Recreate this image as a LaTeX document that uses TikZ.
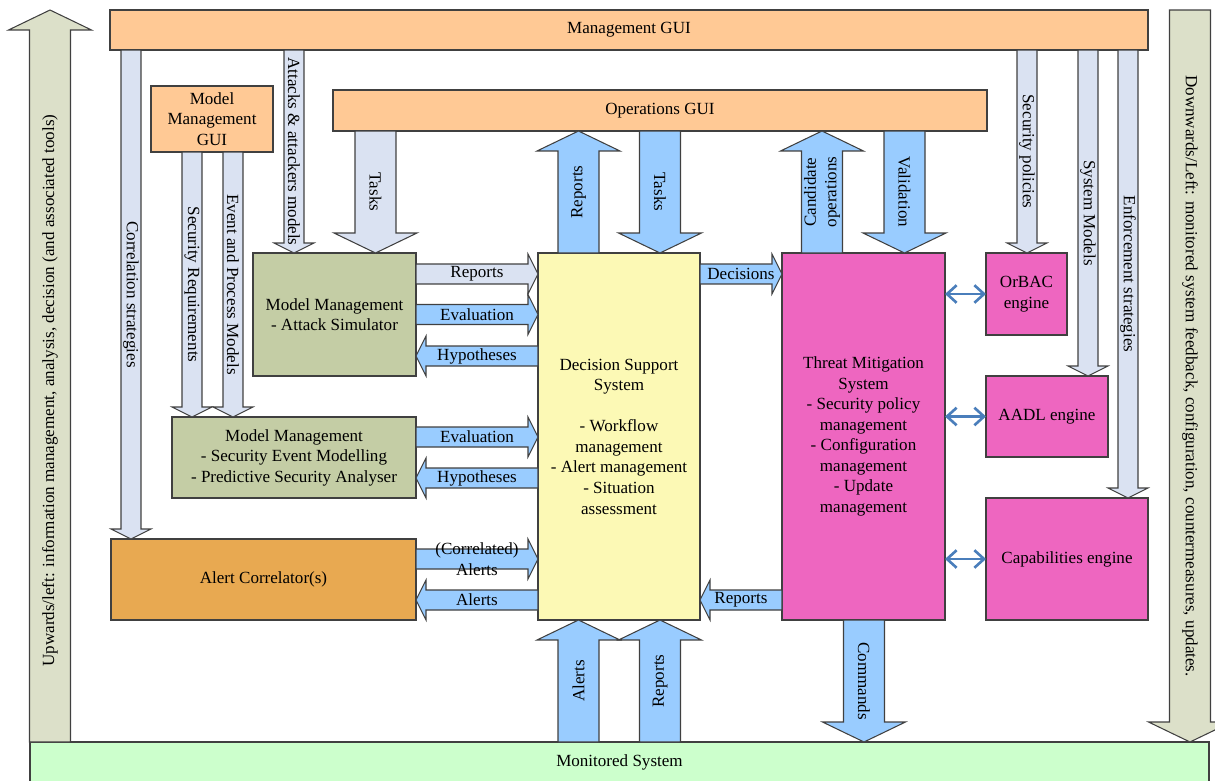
\documentclass[tikz,border=0pt]{standalone}
\usepackage{fontspec}
\setmainfont{Liberation Serif}
\usetikzlibrary{calc,arrows.meta}

\definecolor{guiorange}{HTML}{FFC995}
\definecolor{mmgreen}{HTML}{C4CDA5}
\definecolor{corrorange}{HTML}{E8A951}
\definecolor{dssyellow}{HTML}{FCF9B5}
\definecolor{tmspink}{HTML}{EE66C0}
\definecolor{monigreen}{HTML}{CCFFCC}
\definecolor{arrlight}{HTML}{DAE2F2}
\definecolor{arrblue}{HTML}{99CCFF}
\definecolor{sidegrey}{HTML}{DCE0C9}
\definecolor{linkblue}{HTML}{4A7EBB}

% block arrow keys
\tikzset{
  arrshaft/.store in=\flowShaft, arrhead/.store in=\flowHead,
  arrlen/.store in=\flowLen, arrpos/.store in=\flowPos,
  arrcol/.store in=\flowCol,
  arrshaft=0.2cm, arrhead=0.4cm, arrlen=0.2cm, arrpos=0.5, arrcol=arrblue,
  thin/.style={arrshaft=0.2cm, arrhead=0.4cm, arrlen=0.2cm},
  wide/.style={arrshaft=0.41cm, arrhead=0.83cm, arrlen=0.4cm},
  paleflow/.style={arrcol=arrlight},
  blueflow/.style={arrcol=arrblue},
  sideflow/.style={arrcol=sidegrey},
}

% \flow[options]{from}{to}{label options}{label}
\newcommand{\flow}[5][]{%
  \begin{scope}[#1]
    \path #2 coordinate (fa) #3 coordinate (fb);
    \coordinate (fh) at ($(fb)!\flowLen!(fa)$);
    \draw[fill=\flowCol, draw=black!75, line width=0.6pt]
      ($(fa)!\flowShaft!90:(fb)$) -- ($(fh)!\flowShaft!90:(fb)$)
      -- ($(fh)!\flowHead!90:(fb)$) -- (fb) -- ($(fh)!\flowHead!-90:(fb)$)
      -- ($(fh)!\flowShaft!-90:(fb)$) -- ($(fa)!\flowShaft!-90:(fb)$) -- cycle;
    \node[lbl,#4] at ($(fa)!\flowPos!(fb)$) {#5};
  \end{scope}}

\begin{document}
\begin{tikzpicture}[x=0.02cm,y=-0.02cm,
  font=\fontsize{9.7}{11.7}\selectfont,
  box/.style={draw=black!75, line width=0.6pt, inner sep=0pt, outer sep=0pt,
    align=center, anchor=north west},
  sz/.style 2 args={minimum width=#1*0.02cm, minimum height=#2*0.02cm},
  lbl/.style={inner sep=0pt, align=center},
  link/.style={draw=linkblue, line width=1.5pt,
    {Straight Barb[length=5.5pt,width=10pt]}-{Straight Barb[length=5.5pt,width=10pt]}},
]
\useasboundingbox (0,0) rectangle (1215,781);

%----------------------------
% GUIs
%----------------------------
\node[box, fill=guiorange, sz={1038}{40}] (mgmt) at (110,10) {Management GUI};
\node[box, fill=guiorange, sz={654}{41}] (opsgui) at (333,90) {Operations GUI};
\node[box, fill=guiorange, sz={122}{66}] (mmgui) at (151,86) {Model\\Management\\GUI};

%----------------------------
% Analysis blocks
%----------------------------
\node[box, fill=mmgreen, sz={163}{123}] (mm1) at (253,253)
  {Model Management\\- Attack Simulator};
\node[box, fill=mmgreen, sz={244}{81}] (mm2) at (172,417)
  {Model Management\\- Security Event Modelling\\- Predictive Security Analyser};
\node[box, fill=corrorange, sz={305}{81}] (alcorr) at (111,539) {Alert Correlator(s)};
\node[box, fill=dssyellow, sz={162}{367}] (dss) at (538,253)
  {Decision Support\\System\\[11.7pt]- Workflow\\management\\- Alert management\\- Situation\\assessment};
\node[box, fill=tmspink, sz={163}{367}] (tms) at (782,253)
  {Threat Mitigation\\System\\- Security policy\\management\\- Configuration\\management\\- Update\\management};

% engines
\node[box, fill=tmspink, sz={81}{82}] (orbac) at (986,253) {OrBAC\\engine};
\node[box, fill=tmspink, sz={122}{81}] (aadl) at (986,376) {AADL engine};
\node[box, fill=tmspink, sz={162}{122}] (capeng) at (986,498) {Capabilities engine};

% monitored system
\node[box, fill=monigreen, sz={1179}{40}] (monitor) at (30,742) {Monitored System};

%----------------------------
% Side arrows
%----------------------------
\flow[sideflow,wide,arrpos=0.48]{(monitor.north -| 50,0)}{(mgmt.north -| 50,0)}{rotate=90}
  {Upwards/left: information management, analysis, decision (and associated tools)};
\flow[sideflow,wide]{(mgmt.north -| 1190,0)}{(monitor.north -| 1190,0)}{rotate=-90}
  {Downwards/Left: monitored system feedback, configuration, countermeasures, updates.};

%----------------------------
% From Management GUI
%----------------------------
\flow[paleflow,thin]{(mgmt.south -| 131,0)}{(alcorr.north -| 131,0)}{rotate=-90}{Correlation strategies};
\flow[paleflow,thin]{(mgmt.south -| 294,0)}{(mm1.north -| 294,0)}{rotate=-90}{Attacks \& attackers models};
\flow[paleflow,thin]{(mgmt.south -| 1027,0)}{(orbac.north -| 1027,0)}{rotate=-90}{Security policies};
\flow[paleflow,thin]{(mgmt.south -| 1088,0)}{(aadl.north -| 1088,0)}{rotate=-90}{System Models};
\flow[paleflow,thin]{(mgmt.south -| 1128,0)}{(capeng.north -| 1128,0)}{rotate=-90}{Enforcement strategies};

% From model management GUI
\flow[paleflow,thin]{(mmgui.south -| 192,0)}{(mm2.north -| 192,0)}{rotate=-90}{Security Requirements};
\flow[paleflow,thin]{(mmgui.south -| 233,0)}{(mm2.north -| 233,0)}{rotate=-90}{Event and Process Models};

%----------------------------
% Operations GUI
%----------------------------
\flow[paleflow,wide]{(opsgui.south -| 375.5,0)}{(mm1.north -| 375.5,0)}{rotate=-90}{Tasks};
\flow[blueflow,wide]{(dss.north -| 578.5,0)}{(opsgui.south -| 578.5,0)}{rotate=90}{Reports};
\flow[blueflow,wide]{(opsgui.south -| 660,0)}{(dss.north -| 660,0)}{rotate=-90}{Tasks};
\flow[blueflow,wide]{(tms.north -| 822,0)}{(opsgui.south -| 822,0)}{rotate=90}{Candidate\\operations};
\flow[blueflow,wide]{(opsgui.south -| 904.5,0)}{(tms.north -| 904.5,0)}{rotate=-90}{Validation};

%----------------------------
% Towards / from the DSS
%----------------------------
\flow[paleflow,thin]{(mm1.east |- 0,274)}{(dss.west |- 0,274)}{}{Reports};
\flow[blueflow,thin]{(mm1.east |- 0,314.5)}{(dss.west |- 0,314.5)}{}{Evaluation};
\flow[blueflow,thin]{(dss.west |- 0,356)}{(mm1.east |- 0,356)}{}{Hypotheses};
\flow[blueflow,thin]{(mm2.east |- 0,437)}{(dss.west |- 0,437)}{}{Evaluation};
\flow[blueflow,thin]{(dss.west |- 0,478)}{(mm2.east |- 0,478)}{}{Hypotheses};
\flow[blueflow,thin]{(alcorr.east |- 0,559)}{(dss.west |- 0,559)}{}{(Correlated)\\Alerts};
\flow[blueflow,thin]{(dss.west |- 0,600)}{(alcorr.east |- 0,600)}{}{Alerts};
\flow[blueflow,thin]{(dss.east |- 0,274)}{(tms.west |- 0,274)}{}{Decisions};
\flow[blueflow,thin]{(tms.west |- 0,600)}{(dss.east |- 0,600)}{}{Reports};

%----------------------------
% Monitored system
%----------------------------
\flow[blueflow,wide]{(monitor.north -| 578.5,0)}{(dss.south -| 578.5,0)}{rotate=90}{Alerts};
\flow[blueflow,wide]{(monitor.north -| 660,0)}{(dss.south -| 660,0)}{rotate=90}{Reports};
\flow[blueflow,wide]{(tms.south -| 864,0)}{(monitor.north -| 864,0)}{rotate=-90}{Commands};

% engine links
\draw[link] (tms.east |- orbac.west) -- (orbac.west);
\draw[link] (tms.east |- aadl.west) -- (aadl.west);
\draw[link] (tms.east |- capeng.west) -- (capeng.west);

\end{tikzpicture}
\end{document}
